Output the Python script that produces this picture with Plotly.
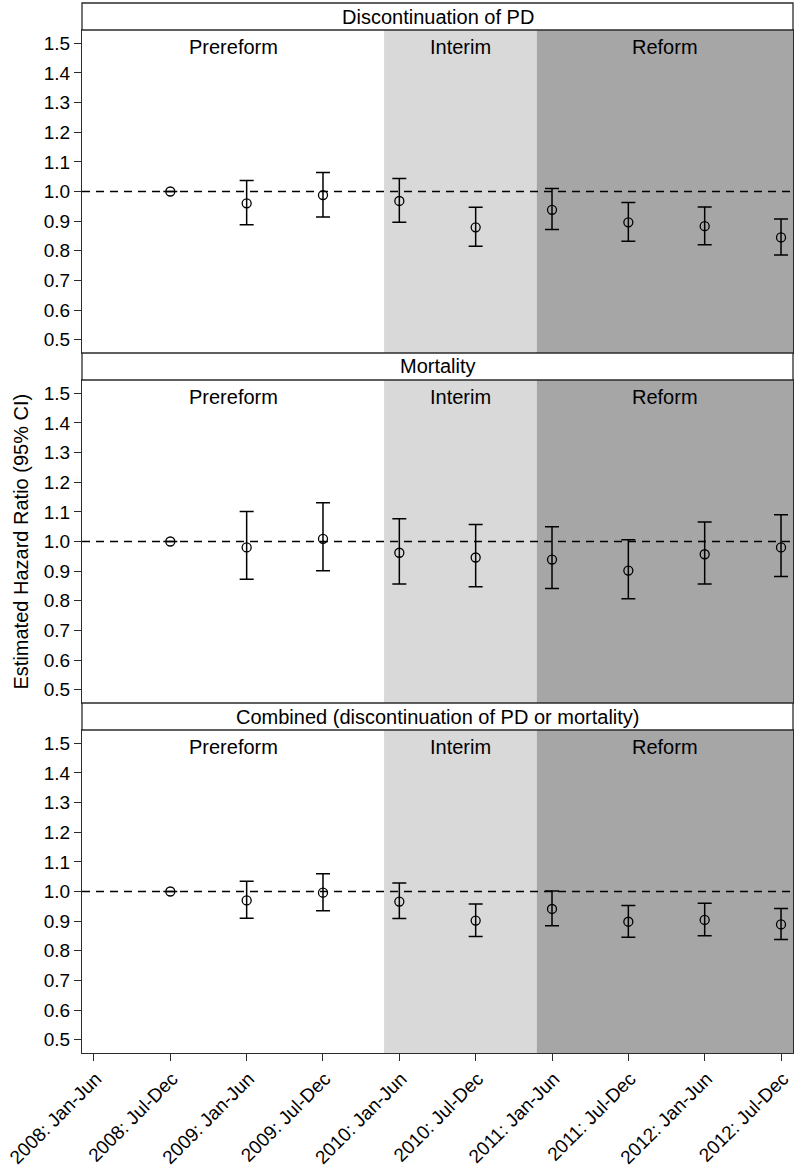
import plotly.graph_objects as go

# ---------------- data ----------------
periods = ["2008: Jan-Jun", "2008: Jul-Dec", "2009: Jan-Jun", "2009: Jul-Dec",
           "2010: Jan-Jun", "2010: Jul-Dec", "2011: Jan-Jun", "2011: Jul-Dec",
           "2012: Jan-Jun", "2012: Jul-Dec"]
est_periods = periods[1:]

panel_titles = ["Discontinuation of PD", "Mortality",
                "Combined (discontinuation of PD or mortality)"]

disc_hr = [1.0, 0.960, 0.988, 0.968, 0.879, 0.938, 0.896, 0.883, 0.845]
disc_lo = [None, 0.888, 0.914, 0.896, 0.815, 0.872, 0.832, 0.820, 0.786]
disc_hi = [None, 1.037, 1.064, 1.044, 0.947, 1.010, 0.963, 0.948, 0.907]

mort_hr = [1.0, 0.980, 1.009, 0.962, 0.946, 0.939, 0.902, 0.957, 0.980]
mort_lo = [None, 0.873, 0.901, 0.857, 0.847, 0.841, 0.807, 0.857, 0.882]
mort_hi = [None, 1.101, 1.131, 1.077, 1.057, 1.050, 1.006, 1.066, 1.090]

comb_hr = [1.0, 0.970, 0.996, 0.966, 0.902, 0.941, 0.898, 0.904, 0.889]
comb_lo = [None, 0.910, 0.935, 0.909, 0.848, 0.884, 0.846, 0.851, 0.838]
comb_hi = [None, 1.035, 1.060, 1.029, 0.958, 1.002, 0.953, 0.960, 0.943]

series = [(disc_hr, disc_lo, disc_hi), (mort_hr, mort_lo, mort_hi), (comb_hr, comb_lo, comb_hi)]

phases = ["Prereform", "Interim", "Reform"]
y_ticks = [0.5, 0.6, 0.7, 0.8, 0.9, 1.0, 1.1, 1.2, 1.3, 1.4, 1.5]

# ---------------- layout constants ----------------
W, H = 795, 1168
ML, MR, MT, MB = 82, 2, 3, 115
PH = H - MT - MB            # plotting height in px
UNIT = PH / 3.0
STRIP = 27
XR = [-0.157, 9.157]
YR = [0.455, 1.545]
bounds = [XR[0], 3.8, 5.8, XR[1]]
shade = [None, "#d9d9d9", "#a6a6a6"]
FONT = "Liberation Sans, Arial, Helvetica, sans-serif"
LC = "#2b2b2b"

def pf(py):
    return (H - MB - py) / PH

fig = go.Figure()
shapes = []
annotations = []

for k in range(3):
    idx = k + 1
    xa = "x" if idx == 1 else f"x{idx}"
    ya = "y" if idx == 1 else f"y{idx}"
    strip_top = MT + UNIT * k
    strip_bot = strip_top + STRIP
    plot_bot = strip_top + UNIT
    hr, lo, hi = series[k]
    eplus = [None if h is None else h - v for h, v in zip(hi, hr)]
    eminus = [None if l is None else v - l for l, v in zip(lo, hr)]
    fig.add_trace(go.Scatter(
        x=est_periods, y=hr, mode="markers",
        marker=dict(symbol="circle-open", size=9, color="black", line=dict(width=1.3, color="black")),
        error_y=dict(type="data", array=eplus, arrayminus=eminus, symmetric=False,
                     color="black", thickness=1.5, width=7),
        xaxis=xa, yaxis=ya, showlegend=False, hoverinfo="skip", cliponaxis=False))

    axkey = "xaxis" if idx == 1 else f"xaxis{idx}"
    aykey = "yaxis" if idx == 1 else f"yaxis{idx}"
    last = (k == 2)
    fig.layout[axkey] = dict(
        type="category", categoryarray=periods, categoryorder="array",
        range=XR, domain=[0, 1], anchor=ya, automargin=False,
        showgrid=False, zeroline=False, showline=True, mirror=True,
        linecolor=LC, linewidth=1.3,
        ticks="outside" if last else "", ticklen=7, tickwidth=1.2, tickcolor=LC,
        tickmode="array", tickvals=periods, ticktext=periods,
        showticklabels=last, tickangle=-45, ticklabelshift=2, ticklabelstandoff=-1,
        tickfont=dict(family=FONT, size=19, color="black"),
        matches="x" if idx > 1 else None)
    fig.layout[aykey] = dict(
        range=YR, domain=[pf(plot_bot), pf(strip_bot)], anchor=xa, automargin=False,
        showgrid=False, zeroline=False, showline=True, mirror=True,
        linecolor=LC, linewidth=1.3,
        ticks="outside", ticklen=7, tickwidth=1.2, tickcolor=LC,
        tickmode="array", tickvals=y_ticks, tickformat=".1f",
        tickfont=dict(family=FONT, size=19, color="black"))

    # phase shading
    for p in range(3):
        if shade[p]:
            shapes.append(dict(type="rect", xref=xa, yref=f"{ya} domain",
                               x0=bounds[p], x1=bounds[p + 1], y0=0, y1=1,
                               fillcolor=shade[p], line=dict(width=0), layer="below"))
        annotations.append(dict(xref=xa, yref=ya, x=(bounds[p] + bounds[p + 1]) / 2,
                                y=1.487, text=phases[p], showarrow=False,
                                xanchor="center", yanchor="middle",
                                font=dict(family=FONT, size=20, color="black")))
    # reference line
    shapes.append(dict(type="line", xref=f"{xa} domain", yref=ya, x0=0, x1=1, y0=1, y1=1,
                       line=dict(color="black", width=1.3, dash="8px,6px"), layer="below"))
    # strip
    shapes.append(dict(type="rect", xref="paper", yref="paper", x0=0, x1=1,
                       y0=pf(strip_bot), y1=pf(strip_top), fillcolor="white",
                       line=dict(color=LC, width=1.3)))
    annotations.append(dict(xref="paper", yref="paper", x=0.5,
                            y=(pf(strip_bot) + pf(strip_top)) / 2, text=panel_titles[k],
                            showarrow=False, xanchor="center", yanchor="middle",
                            font=dict(family=FONT, size=20, color="black")))

# y-axis title centred on the middle panel
mid_top = MT + UNIT + STRIP
mid_bot = MT + 2 * UNIT
annotations.append(dict(xref="paper", yref="paper", x=(20 - ML) / (W - ML - MR),
                        y=(pf(mid_top) + pf(mid_bot)) / 2,
                        text="Estimated Hazard Ratio (95% CI)", textangle=-90,
                        showarrow=False, xanchor="center", yanchor="middle",
                        font=dict(family=FONT, size=20, color="black")))

fig.update_layout(width=W, height=H, margin=dict(l=ML, r=MR, t=MT, b=MB, autoexpand=False),
                  paper_bgcolor="white", plot_bgcolor="white",
                  shapes=shapes, annotations=annotations,
                  font=dict(family=FONT, color="black"))

fig.write_html("out.html", config={"displayModeBar": False},
               post_script="document.body.style.margin='0';"
                           "document.documentElement.style.overflow='hidden';"
                           "document.body.style.overflow='hidden';")
